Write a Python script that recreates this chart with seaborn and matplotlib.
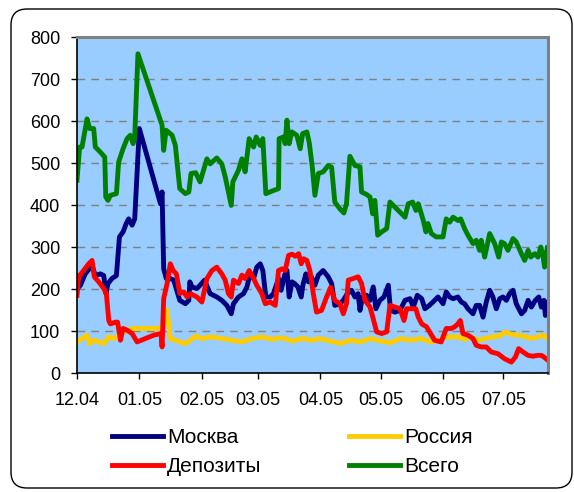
import matplotlib
matplotlib.use('Agg')
import matplotlib.pyplot as plt
import matplotlib.dates as mdates
from matplotlib.patches import FancyBboxPatch
import seaborn as sns
import pandas as pd

plt.rcParams['font.family'] = ['Liberation Sans', 'DejaVu Sans']

# дни от 01.12.2004 и значения рядов
start = pd.Timestamp('2004-12-01')

moscow_days = [0, 1.7, 4.1, 7.5, 9.1, 11.6, 13.3, 14.4, 15.4, 17.4, 19.6, 21.1, 22.9, 24.5, 25.7,
               27.4, 28.7, 31, 41.5, 42.3, 43.1, 44.4, 46.4, 48.1, 51.1, 53.9, 55.6, 56.1, 57.2,
               59.6, 61.2, 63.4, 66.2, 69.5, 72, 74.5, 76.7, 77.8, 80.3, 82.8, 84.5, 86.1, 87.8,
               89.4, 91.1, 92.4, 93.9, 96.1, 97.7, 100.2, 101.5, 103.2, 104.4, 105.5, 106.9, 108.2,
               109.8, 111.5, 112.3, 113.8, 115.1, 116.5, 118.3, 120, 122.4, 124.9, 126.6, 128.2,
               130.7, 132.4, 134.4, 136.5, 138.2, 139.8, 140.7, 142, 144, 145.7, 147.3, 148.6,
               150.6, 152.6, 154.8, 155.9, 158.1, 160.6, 163.1, 165.6, 167.2, 169.2, 171.4, 173,
               175.2, 177, 179.5, 182, 183.6, 185.3, 187, 189.4, 191.1, 192.7, 194.4, 196.9, 198.5,
               200.2, 201.9, 203.5, 205.2, 206.8, 208.5, 210.2, 211.8, 213.5, 215.1, 216.8, 218.4,
               221, 222.6, 224.3, 225.9, 227.9, 229.6, 230.9, 232.2, 232.9, 233.9, 234.2]
moscow_vals = [200, 209, 236, 256, 232, 236, 232, 189, 213, 225, 232, 324, 336, 356, 367,
               352, 367, 582, 403, 431, 248, 225, 225, 221, 173, 165, 173, 217, 205,
               201, 209, 221, 189, 181, 173, 161, 141, 165, 181, 189, 205, 236, 225,
               252, 260, 244, 181, 181, 189, 225, 197, 233, 244, 181, 217, 213,
               205, 181, 209, 236, 217, 229, 209, 233, 244, 229, 213, 161,
               165, 173, 189, 197, 181, 189, 149, 181, 185, 173, 205, 153,
               173, 181, 209, 149, 145, 149, 173, 177, 157, 185, 177, 153,
               161, 169, 181, 165, 193, 181, 177, 181, 169, 165, 153, 141, 161,
               161, 133, 169, 197, 181, 153, 177, 181, 173, 189, 197, 165,
               141, 149, 173, 157, 173, 181, 157, 173, 137, 169, 157]

russia_days = [0, 2.5, 5, 6.3, 8.3, 10.8, 13.3, 15.8, 18.2, 19.9, 23.2, 27.4, 42.3, 44.8, 46.4,
               48.9, 51.4, 53.9, 56.4, 59, 62, 67, 72, 77, 82, 87, 92, 97, 102, 107, 112, 117,
               121, 126, 131, 136, 141, 146, 151, 156, 161, 166, 171, 176, 179.5, 184.5, 189.5,
               192.8, 196, 199.4, 202.7, 206.8, 210, 213, 216, 219, 222.6, 226, 229.2, 231.7, 234.2]
russia_vals = [74, 82, 90, 70, 78, 74, 70, 86, 82, 86, 98, 106, 106, 149, 82,
               78, 74, 70, 78, 88, 82, 86, 82, 78, 74, 82, 86, 80, 84, 76, 82, 78,
               82, 76, 70, 78, 74, 82, 76, 72, 82, 78, 82, 74, 78, 86, 86,
               80, 86, 78, 82, 86, 88, 98, 92, 90, 87, 82, 86, 90, 82]

deposits_days = [0, 0.8, 3.3, 5.8, 7.5, 8.6, 10.8, 13.3, 14.6, 15.8, 16.6, 19.1, 20.2, 21.6, 22.9,
                 24.9, 27.4, 29.9, 34, 38.1, 41.8, 42.3, 43.1, 44.8, 46.4, 47.8, 49.4, 51.1, 53.1,
                 54.7, 56.4, 59.6, 62.1, 64.6, 67.1, 69.5, 72, 73.7, 75.3, 76.7, 77.8, 80.3, 82,
                 83.6, 85.6, 87.8, 89.4, 91.9, 93.6, 96.1, 98.6, 100.2, 101.9, 103.5, 105.2, 106.9,
                 108.5, 110.2, 111.5, 112.7, 114.3, 115.8, 117.5, 119.1, 121.6, 124.1, 126.1, 128.2,
                 130.7, 132.4, 134, 134.9, 137.4, 139.8, 141.5, 143.2, 145.7, 147.3, 149, 151.5, 154,
                 155.6, 158.1, 160.6, 162.6, 163.9, 165.6, 168.5, 169.7, 171.4, 173.8, 175.8, 177.8,
                 181.1, 183.6, 186.1, 187.8, 189.4, 190.6, 191.9, 194.4, 196.9, 198.5, 201, 203.5,
                 206, 209.3, 212.6, 216, 218, 219.6, 221.8, 224.3, 226.7, 229.2, 230.9, 232.2, 234.2]
deposits_vals = [185, 229, 244, 260, 268, 229, 217, 201, 189, 125, 117, 121, 121, 78, 106,
                 102, 94, 74, 82, 90, 94, 62, 177, 213, 260, 244, 236, 189, 193,
                 181, 189, 181, 169, 225, 244, 252, 236, 221, 189, 181, 221, 213, 233,
                 225, 244, 225, 209, 189, 165, 169, 161, 244, 248, 244, 280, 283,
                 278, 284, 260, 272, 268, 244, 189, 145, 149, 181, 204, 173,
                 165, 141, 165, 221, 225, 229, 213, 173, 157, 129, 98, 94, 98,
                 161, 157, 153, 125, 153, 153, 153, 133, 117, 110, 94, 78,
                 74, 106, 106, 110, 117, 125, 94, 90, 82, 66, 62, 62,
                 50, 46, 34, 26, 38, 58, 50, 42, 40, 42, 42, 38, 30]

total_days = [0, 1.3, 2.5, 5, 6.3, 8.3, 9.1, 11.6, 13.8, 14.3, 15.4, 16.6, 19.6, 20.7, 22.9, 24.9,
              26.5, 27.9, 28.7, 30.3, 42.3, 43.1, 44.3, 47.3, 48.9, 51.1, 53.9, 55.6, 56.7, 59,
              61.2, 64.6, 66.2, 69.5, 72, 73.7, 76.7, 77.5, 80.3, 82, 83.6, 85.6, 87.8, 89.1, 91.1,
              92.4, 93.9, 96.9, 100.2, 100.5, 102.7, 103.5, 104.4, 105.5, 106.8, 109.3, 111, 112.2,
              114.3, 115.5, 117, 118.3, 120, 122.4, 124.9, 126.6, 128.2, 130.7, 132.7, 134, 135.7,
              138.2, 140.7, 141.5, 144, 145.7, 147, 148.1, 149.5, 151.5, 154, 155.6, 158.1, 160.6,
              163.1, 164.7, 166.9, 168.5, 169.7, 172.2, 173.5, 174.5, 176.2, 178.6, 182, 183.6,
              185.3, 187, 189.4, 190.8, 192.7, 194.4, 196.9, 198.5, 200.2, 201, 202.7, 205.2,
              207.7, 209.7, 211, 212.6, 214.3, 216.8, 218.4, 221, 222.6, 224.3, 225.6, 227.6,
              229.2, 230.6, 231.7, 232.5, 233.9, 234.2]
total_vals = [459, 538, 538, 605, 582, 582, 538, 526, 514, 419, 411, 423, 427, 502, 534, 558,
              566, 546, 562, 760, 590, 530, 578, 566, 542, 439, 427, 431, 475, 477,
              455, 510, 498, 512, 498, 467, 399, 455, 483, 510, 479, 558, 538, 562, 542,
              558, 427, 433, 439, 558, 562, 546, 602, 546, 574, 566, 534, 570,
              574, 548, 490, 423, 475, 479, 494, 490, 407, 391, 381, 403, 516,
              494, 491, 431, 425, 419, 379, 411, 328, 336, 344, 407, 395, 383,
              371, 403, 407, 387, 403, 363, 336, 356, 332, 324, 324, 367,
              359, 371, 363, 367, 344, 328, 308, 316, 292, 316, 276, 332,
              308, 276, 312, 308, 292, 320, 312, 284, 268, 292, 276, 284,
              276, 300, 280, 252, 300, 260]

series_order = ['Россия', 'Москва', 'Депозиты', 'Всего']
colors = {'Москва': '#000080', 'Россия': '#FFCC00', 'Депозиты': '#FF0000', 'Всего': '#008000'}

frames = []
for name, days, vals in [('Москва', moscow_days, moscow_vals),
                         ('Россия', russia_days, russia_vals),
                         ('Депозиты', deposits_days, deposits_vals),
                         ('Всего', total_days, total_vals)]:
    frames.append(pd.DataFrame({
        'date': start + pd.to_timedelta(days, unit='D'),
        'value': vals,
        'series': name,
    }))
df = pd.concat(frames, ignore_index=True)

fig = plt.figure(figsize=(5.74, 4.92), dpi=100)
ax = fig.add_axes([77 / 574, 119 / 492, 471 / 574, 336 / 492])
ax.set_facecolor('#99CCFF')

sns.lineplot(data=df, x='date', y='value', hue='series', hue_order=series_order,
             palette=colors, linewidth=3.5, estimator=None, sort=True, ax=ax)

ax.set_ylim(0, 800)
ax.set_yticks(range(0, 801, 100))
ax.set_xlim(start, start + pd.Timedelta(days=234.2))
ax.xaxis.set_major_locator(mdates.MonthLocator())
ax.xaxis.set_major_formatter(mdates.DateFormatter('%m.%y'))
ax.set_xlabel('')
ax.set_ylabel('')

ax.grid(axis='y', color='#808080', linestyle=(0, (5.5, 4.5)), linewidth=1)
ax.grid(axis='x', visible=False)
ax.set_axisbelow(True)

for side in ['top', 'right']:
    ax.spines[side].set_color('#808080')
    ax.spines[side].set_linewidth(2.2)
for side in ['left', 'bottom']:
    ax.spines[side].set_color('black')
    ax.spines[side].set_linewidth(1.2)

ax.tick_params(axis='y', direction='out', length=4, width=1, pad=8, labelsize=13)
ax.tick_params(axis='x', direction='out', length=4, width=1, pad=10, labelsize=13)

handles, labels = ax.get_legend_handles_labels()
ax.get_legend().remove()
lookup = dict(zip(labels, handles))
legend_order = ['Москва', 'Депозиты', 'Россия', 'Всего']
leg = fig.legend([lookup[k] for k in legend_order], legend_order, ncol=2,
                 loc='center', bbox_to_anchor=(0.509, 0.081), frameon=False,
                 fontsize=15, handlelength=2.45, handletextpad=0.2,
                 columnspacing=4.2, labelspacing=0.5)
for line in leg.get_lines():
    line.set_linewidth(3.5)

# рамка вокруг диаграммы
frame = FancyBboxPatch((0.11, 0.04), 5.61, 4.79,
                       boxstyle='round,pad=0,rounding_size=0.16',
                       transform=fig.dpi_scale_trans, fill=False,
                       edgecolor='black', linewidth=1)
fig.patches.append(frame)

fig.savefig('out.png', dpi=100)
plt.close(fig)
